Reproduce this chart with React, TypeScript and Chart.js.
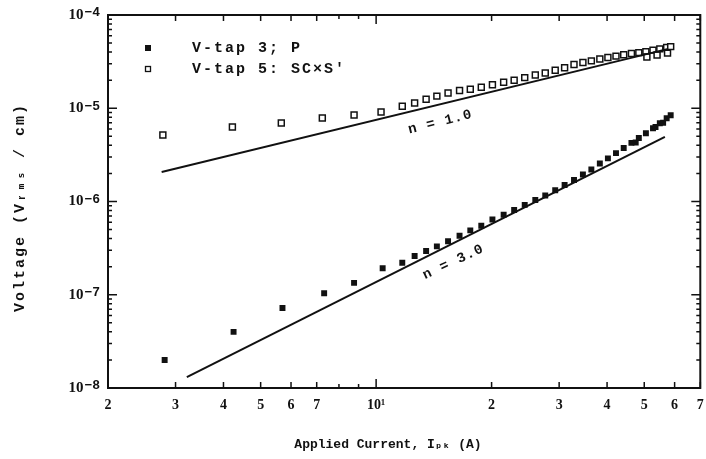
import React, { useEffect, useRef } from "react";
import { Chart, registerables } from "chart.js";

Chart.register(...registerables);

// V-tap 3 (P): current in A, voltage in V/cm
const tap3Current = [
  2.81, 4.25, 5.7, 7.32, 8.76, 10.4, 11.7, 12.6, 13.5, 14.4, 15.4, 16.5, 17.6, 18.8, 20.1,
  21.5, 22.9, 24.4, 26.0, 27.6, 29.3, 31.0, 32.8, 34.6, 36.4, 38.3, 40.2, 42.2, 44.2, 46.3,
  47.5, 48.4, 50.5, 52.7, 53.5, 54.9, 56.0, 57.2, 58.6,
];
const tap3Voltage = [
  2.0e-8, 4.0e-8, 7.2e-8, 1.04e-7, 1.34e-7, 1.92e-7, 2.2e-7, 2.6e-7, 2.95e-7, 3.3e-7, 3.75e-7,
  4.3e-7, 4.9e-7, 5.5e-7, 6.4e-7, 7.2e-7, 8.1e-7, 9.2e-7, 1.04e-6, 1.16e-6, 1.32e-6, 1.5e-6,
  1.7e-6, 1.95e-6, 2.2e-6, 2.55e-6, 2.9e-6, 3.3e-6, 3.75e-6, 4.25e-6, 4.3e-6, 4.8e-6, 5.4e-6,
  6.1e-6, 6.3e-6, 6.9e-6, 7.0e-6, 7.8e-6, 8.4e-6,
];

// V-tap 5 (SC×S′)
const tap5Current = [
  2.78, 4.22, 5.66, 7.24, 8.76, 10.3, 11.7, 12.6, 13.5, 14.4, 15.4, 16.5, 17.6, 18.8, 20.1,
  21.5, 22.9, 24.4, 26.0, 27.6, 29.3, 31.0, 32.8, 34.6, 36.4, 38.3, 40.2, 42.2, 44.2, 46.3,
  48.4, 50.5, 50.8, 52.7, 54.0, 54.9, 57.2, 57.5, 58.6,
];
const tap5Voltage = [
  5.16e-6, 6.29e-6, 6.95e-6, 7.86e-6, 8.47e-6, 9.12e-6, 1.05e-5, 1.14e-5, 1.25e-5, 1.35e-5,
  1.46e-5, 1.55e-5, 1.6e-5, 1.68e-5, 1.79e-5, 1.9e-5, 2.0e-5, 2.13e-5, 2.27e-5, 2.39e-5,
  2.55e-5, 2.72e-5, 2.95e-5, 3.1e-5, 3.22e-5, 3.37e-5, 3.5e-5, 3.62e-5, 3.74e-5, 3.86e-5,
  3.95e-5, 4.05e-5, 3.55e-5, 4.2e-5, 3.72e-5, 4.33e-5, 4.48e-5, 3.9e-5, 4.58e-5,
];

// power-law fits, endpoints
const fitN3Current = [3.21, 56.6];
const fitN3Voltage = [1.31e-8, 4.92e-6];
const fitN1Current = [2.76, 57.7];
const fitN1Voltage = [2.07e-6, 4.33e-5];

const seriesLabels = ["V-tap 3; P", "V-tap 5: SC×S′"];
const fitLabels = ["n = 3.0", "n = 1.0"];

const xTickValues = [2, 3, 4, 5, 6, 7, 10, 20, 30, 40, 50, 60, 70];
const xTickLabels = ["2", "3", "4", "5", "6", "7", "10¹", "2", "3", "4", "5", "6", "7"];
const yTickValues = [1e-8, 1e-7, 1e-6, 1e-5, 1e-4];
const yTickExponents = ["−8", "−7", "−6", "−5", "−4"];

const xTitle = "Applied Current, Iₚₖ (A)";
const yTitle = "Voltage (Vᵣₘₛ / cm)";

const SERIF = "'Liberation Serif', 'DejaVu Serif', serif";
const MONO = "'Liberation Mono', 'DejaVu Sans Mono', monospace";
const ink = "#111";

const toPoints = (xs: number[], ys: number[]) => xs.map((x, i) => ({ x, y: ys[i] }));

// box frame, inward ticks, y labels, axis titles, legend and slope labels
const decorPlugin = {
  id: "decor",
  afterDatasetsDraw(chart: any) {
    const { ctx, chartArea: a, scales } = chart;
    const sx = scales.x;
    const sy = scales.y;
    ctx.save();
    ctx.strokeStyle = ink;
    ctx.fillStyle = ink;
    ctx.lineWidth = 2;
    ctx.strokeRect(a.left, a.top, a.right - a.left, a.bottom - a.top);

    ctx.lineWidth = 1.5;
    const xMarks: number[] = [];
    for (let v = 2; v <= 9; v++) xMarks.push(v);
    for (let v = 10; v <= 70; v += 10) xMarks.push(v);
    xMarks.forEach((v) => {
      const px = sx.getPixelForValue(v);
      const len = v === 10 ? 9 : xTickValues.includes(v) ? 6 : 4;
      ctx.beginPath();
      ctx.moveTo(px, a.bottom);
      ctx.lineTo(px, a.bottom - len);
      ctx.moveTo(px, a.top);
      ctx.lineTo(px, a.top + len);
      ctx.stroke();
    });
    for (let d = -8; d < -4; d++) {
      for (let m = 1; m <= 9; m++) {
        const v = m * Math.pow(10, d);
        const py = sy.getPixelForValue(v);
        const len = m === 1 ? 9 : 4;
        ctx.beginPath();
        ctx.moveTo(a.left, py);
        ctx.lineTo(a.left + len, py);
        ctx.moveTo(a.right, py);
        ctx.lineTo(a.right - len, py);
        ctx.stroke();
      }
    }

    // y tick labels: 10 with raised exponent
    ctx.textBaseline = "middle";
    ctx.textAlign = "left";
    yTickValues.forEach((v, i) => {
      const py = sy.getPixelForValue(v);
      ctx.font = `bold 13px ${MONO}`;
      const ew = ctx.measureText(yTickExponents[i]).width;
      ctx.font = `bold 15px ${SERIF}`;
      const bw = ctx.measureText("10").width;
      const right = a.left - 8;
      ctx.fillText("10", right - ew - bw - 1, py);
      ctx.font = `bold 13px ${MONO}`;
      ctx.fillText(yTickExponents[i], right - ew, py - 2);
    });

    // axis titles
    ctx.textAlign = "center";
    ctx.font = `bold 13px ${MONO}`;
    ctx.fillText(xTitle, 388, a.bottom + 57);
    ctx.save();
    ctx.translate(20, (a.top + a.bottom) / 2 + 6);
    ctx.rotate(-Math.PI / 2);
    (ctx as any).letterSpacing = "2px";
    ctx.font = `bold 15px ${MONO}`;
    ctx.fillText(yTitle, 0, 0);
    ctx.restore();

    // legend
    (ctx as any).letterSpacing = "2px";
    ctx.textAlign = "left";
    ctx.font = `bold 15px ${MONO}`;
    const lx = a.left + 40;
    const ly = a.top + 33;
    ctx.fillRect(lx - 3, ly - 3, 6, 6);
    ctx.fillText(seriesLabels[0], lx + 44, ly);
    ctx.lineWidth = 1.3;
    ctx.strokeRect(lx - 2.5, ly + 18.5, 5, 5);
    ctx.fillText(seriesLabels[1], lx + 44, ly + 21);

    // slope labels, drawn along their fit lines
    const label = (text: string, xv: number, yv: number, deg: number) => {
      ctx.save();
      ctx.translate(sx.getPixelForValue(xv), sy.getPixelForValue(yv));
      ctx.rotate((deg * Math.PI) / 180);
      ctx.textAlign = "center";
      (ctx as any).letterSpacing = "1px";
      ctx.font = `bold 14px ${MONO}`;
      ctx.fillText(text, 0, 0);
      ctx.restore();
    };
    label(fitLabels[1], 14.7, 7.1e-6, -14);
    label(fitLabels[0], 15.9, 2.24e-7, -25);
    ctx.restore();
  },
};

export default function App() {
  const ref = useRef<HTMLCanvasElement | null>(null);

  useEffect(() => {
    if (!ref.current) return;
    const chart = new Chart(ref.current, {
      type: "scatter",
      data: {
        datasets: [
          {
            label: fitLabels[0],
            data: toPoints(fitN3Current, fitN3Voltage),
            showLine: true,
            borderColor: ink,
            borderWidth: 2,
            pointRadius: 0,
          },
          {
            label: fitLabels[1],
            data: toPoints(fitN1Current, fitN1Voltage),
            showLine: true,
            borderColor: ink,
            borderWidth: 2,
            pointRadius: 0,
          },
          {
            label: seriesLabels[0],
            data: toPoints(tap3Current, tap3Voltage),
            pointStyle: "rect",
            pointRadius: 4.2,
            backgroundColor: ink,
            borderColor: ink,
            borderWidth: 0,
          },
          {
            label: seriesLabels[1],
            data: toPoints(tap5Current, tap5Voltage),
            pointStyle: "rect",
            pointRadius: 4.2,
            backgroundColor: "#fff",
            borderColor: ink,
            borderWidth: 1.5,
          },
        ],
      },
      options: {
        animation: false,
        responsive: false,
        maintainAspectRatio: false,
        layout: { padding: { top: 15, right: 4, left: 0, bottom: 0 } },
        plugins: { legend: { display: false }, tooltip: { enabled: false } },
        scales: {
          x: {
            type: "logarithmic",
            min: 2,
            max: 70,
            grid: { display: false, drawTicks: false },
            border: { display: false },
            afterBuildTicks: (s: any) => {
              s.ticks = xTickValues.map((value) => ({ value }));
            },
            afterFit: (s: any) => {
              s.height = 71;
              s.paddingLeft = 0;
              s.paddingRight = 0;
            },
            ticks: {
              autoSkip: false,
              maxRotation: 0,
              padding: 9,
              color: ink,
              font: { family: SERIF, size: 14, weight: "bold" },
              callback: (v: any) => xTickLabels[xTickValues.indexOf(Number(v))] ?? "",
            },
          },
          y: {
            type: "logarithmic",
            min: 1e-8,
            max: 1e-4,
            grid: { display: false, drawTicks: false },
            border: { display: false },
            ticks: { display: false },
            afterFit: (s: any) => {
              s.width = 108;
              s.paddingTop = 0;
              s.paddingBottom = 0;
            },
          },
        },
      },
      plugins: [decorPlugin],
    });
    return () => chart.destroy();
  }, []);

  return (
    <div style={{ position: "fixed", left: 0, top: 0, width: 706, height: 459, background: "#fff" }}>
      <canvas ref={ref} width={706} height={459} />
    </div>
  );
}
